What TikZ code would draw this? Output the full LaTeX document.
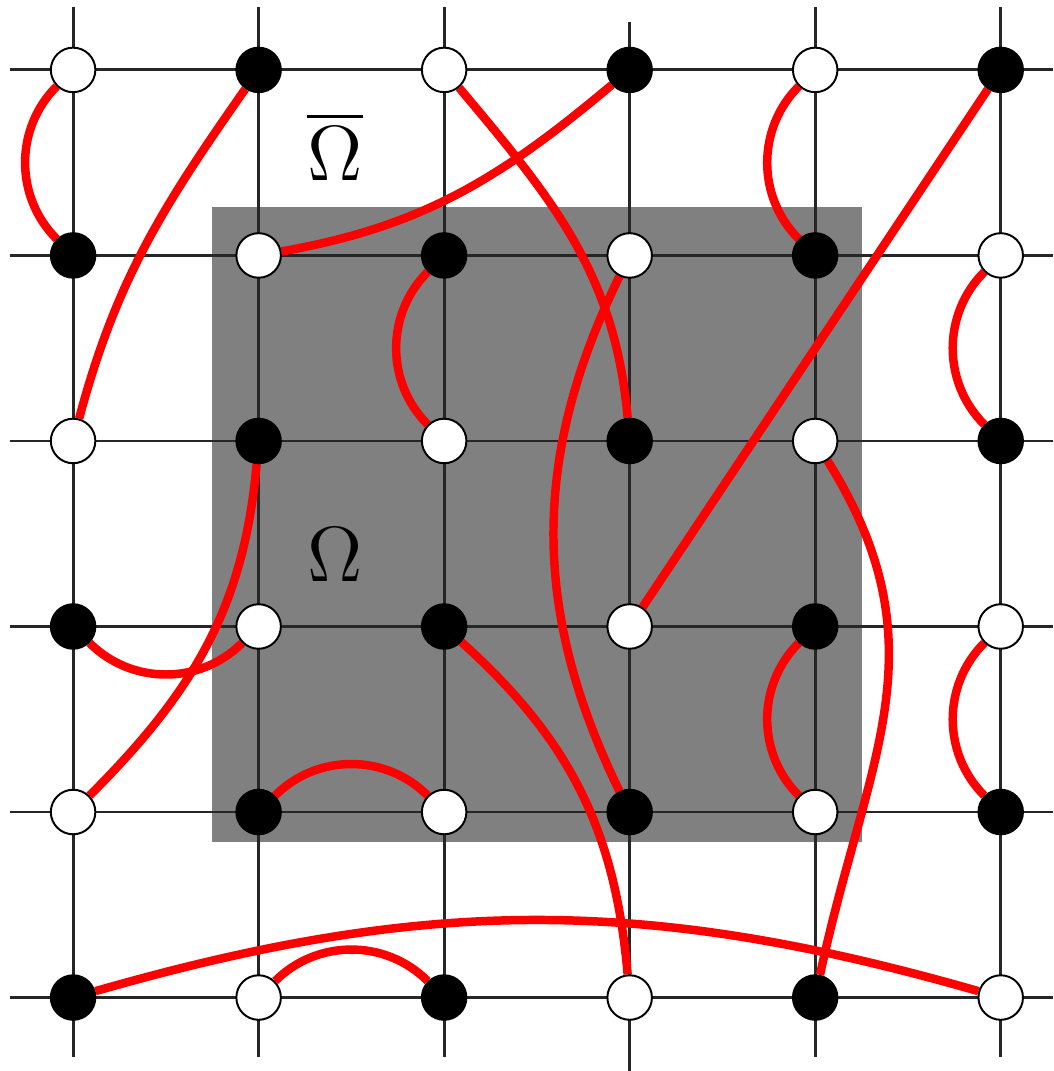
\documentclass[tikz,border=0pt]{standalone}
\usepackage{amsmath,amssymb}
\usetikzlibrary{arrows}
\pgfdeclarelayer{background}
\pgfdeclarelayer{links}
\pgfsetlayers{background,links,main}
\tikzset{
  site/.style={circle, draw=black, line width=0.3pt, minimum size=0.24cm, inner sep=0pt},
  whitesite/.style={site, fill=white},
  blacksite/.style={site, fill=black},
  link/.style={red, line width=1.3pt},
  gridline/.style={line width=0.45pt, black!85},
  region/.style={inner sep=0pt, font=\fontsize{11.5}{14}\selectfont},
}

\begin{document}
\begin{tikzpicture}
	\useasboundingbox (-0.394,0.377) rectangle (5.283,-5.396);
	\begin{pgfonlayer}{background}
	\fill[gray] (0.747,-0.737) rectangle (4.252,-4.160);
	\foreach \j in {0,...,5}
		\draw[gridline] (-0.34,-\j) -- (5.283,-\j);
	\foreach \i in {0,1,2,4,5}
		\draw[gridline] (\i,0.34) -- (\i,-5.32);
	\draw[gridline] (3,0.26) -- (3,-5.396);
	\end{pgfonlayer}
	% lattice sites, checkerboard
	\foreach \i in {0,...,5}
		\foreach \j in {0,...,5}{
			\pgfmathtruncatemacro{\parity}{mod(\i+\j,2)}
			\ifnum\parity=0
				\node[whitesite] (v\i\j) at (\i,-\j) {};
			\else
				\node[blacksite] (v\i\j) at (\i,-\j) {};
			\fi
		}
	\node[region] (omegabar) at (1.412,-0.41) {$\overline{\Omega}$};
	\node[region] (omega) at (1.412,-2.615) {$\Omega$};
	% pairings
	\begin{pgfonlayer}{links}
	\draw[link] (v00) to[bend right=45] (v01);
	\draw[link] (v10) to[out=235,in=75] (v02);
	\draw[link] (v20) to[out=-50,in=95] (v32);
	\draw[link] (v30) to[out=220,in=10] (v11);
	\draw[link] (v40) to[bend right=45] (v41);
	\draw[link] (v50) -- (v33);
	\draw[link] (v21) to[bend right=45] (v22);
	\draw[link] (v31) to[bend right=26] (v34);
	\draw[link] (v51) to[bend right=45] (v52);
	\draw[link] (v12) to[out=265,in=45] (v04);
	\draw[link] (v03) to[bend right=45] (v13);
	\draw[link] (v42) to[out=-58,in=78,looseness=1.1] (v45);
	\draw[link] (v23) to[out=-42,in=95] (v35);
	\draw[link] (v43) to[bend right=45] (v44);
	\draw[link] (v53) to[bend right=45] (v54);
	\draw[link] (v14) to[bend left=45] (v24);
	\draw[link] (v05) to[bend left=16] (v55);
	\draw[link] (v15) to[bend left=45] (v25);
	\end{pgfonlayer}
\end{tikzpicture}
\end{document}
